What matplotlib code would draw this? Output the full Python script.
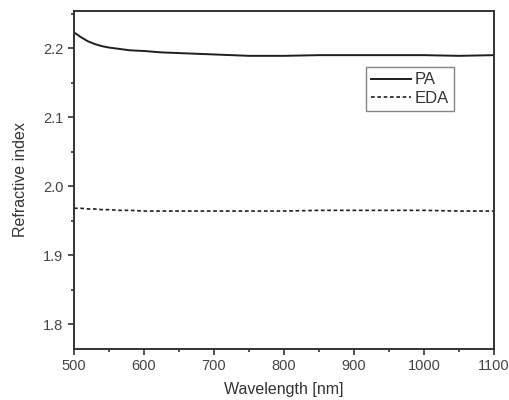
import matplotlib
matplotlib.use("Agg")
import matplotlib.pyplot as plt
from matplotlib.ticker import MultipleLocator

# values
wavelength = [500, 510, 520, 530, 540, 550, 565, 580, 600, 625, 650, 700, 750, 800, 850, 900, 950, 1000, 1050, 1100]
pa_index = [2.223, 2.216, 2.210, 2.206, 2.203, 2.201, 2.199, 2.197, 2.196, 2.194, 2.193, 2.191, 2.189, 2.189, 2.190, 2.190, 2.190, 2.190, 2.189, 2.190]
eda_index = [1.968, 1.968, 1.967, 1.967, 1.966, 1.966, 1.965, 1.965, 1.964, 1.964, 1.964, 1.964, 1.964, 1.964, 1.965, 1.965, 1.965, 1.965, 1.964, 1.964]

plt.rcParams["font.family"] = ["Liberation Sans", "DejaVu Sans"]

fig = plt.figure(figsize=(5.09, 4.0), dpi=100)
ax = fig.add_axes([74 / 509, 51 / 400, 420 / 509, 338 / 400])

line_color = "#1e1e1e"
ax.plot(wavelength, pa_index, color=line_color, lw=1.4, label="PA")
ax.plot(wavelength, eda_index, color=line_color, lw=1.2, ls=(0, (2.2, 1.6)), label="EDA")

ax.set_xlim(500, 1100)
ax.set_ylim(1.764, 2.254)
ax.xaxis.set_major_locator(MultipleLocator(100))
ax.xaxis.set_minor_locator(MultipleLocator(50))
ax.yaxis.set_major_locator(MultipleLocator(0.1))
ax.yaxis.set_minor_locator(MultipleLocator(0.05))
ax.yaxis.set_major_formatter(lambda v, p: f"{v:.1f}")

ax.tick_params(which="both", direction="out", top=False, right=False,
               colors="#333333", labelsize=10.5, labelcolor="#444444", width=1.2)
ax.tick_params(which="major", length=4.5, pad=3)
ax.tick_params(which="minor", length=2.5)
for s in ax.spines.values():
    s.set_linewidth(1.4)
    s.set_color("#333333")

ax.set_xlabel("Wavelength [nm]", fontsize=11.5, color="#333333", labelpad=6)
ax.set_ylabel("Refractive index", fontsize=11.5, color="#333333", labelpad=11)

leg = ax.legend(loc="upper left", bbox_to_anchor=(0.695, 0.833), fontsize=12,
                frameon=True, fancybox=False, handlelength=2.4, handletextpad=0.25,
                borderpad=0.3, labelspacing=0.2, borderaxespad=0)
leg.get_frame().set_edgecolor("#666666")
leg.get_frame().set_linewidth(1.0)
for t in leg.get_texts():
    t.set_color("#333333")

plt.savefig("out.png", dpi=100)
plt.close()
